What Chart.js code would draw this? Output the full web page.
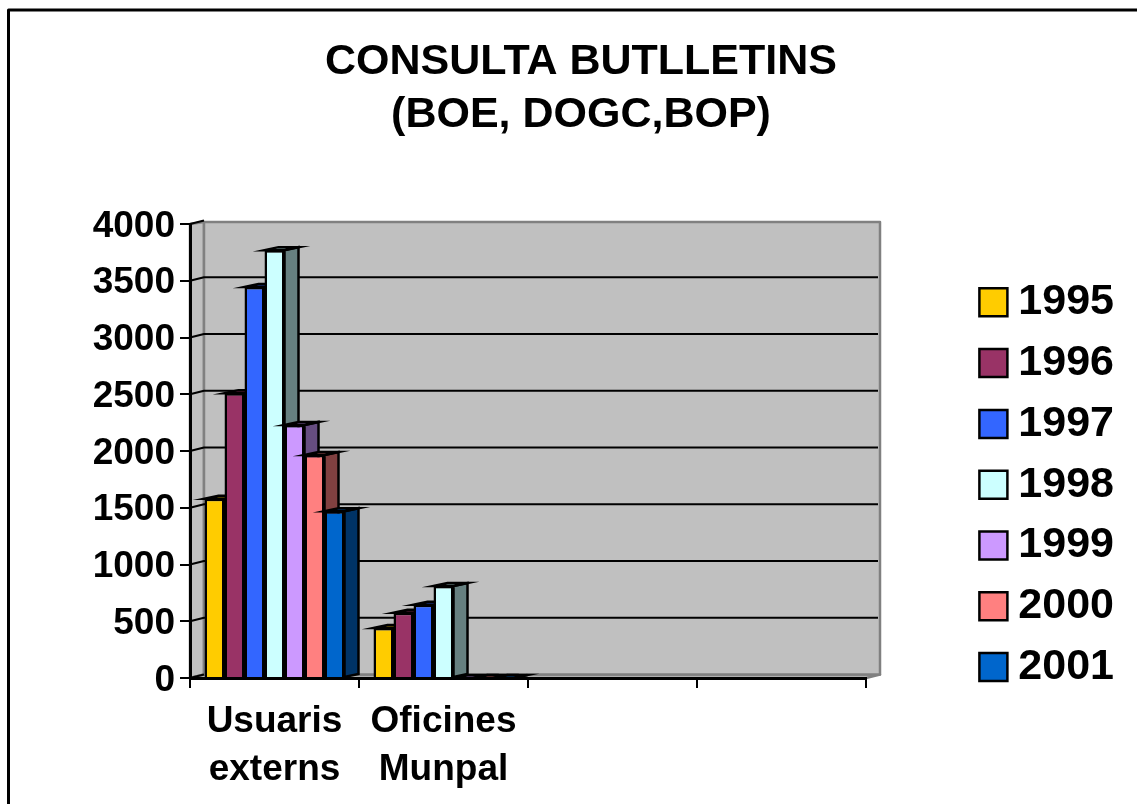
<!DOCTYPE html>
<html>
<head>
<meta charset="utf-8">
<title>Consulta butlletins</title>
<script src="https://cdn.jsdelivr.net/npm/chart.js@4"></script>
<style>
html, body { margin: 0; padding: 0; background: #fff; overflow: hidden; }
#wrap { width: 1137px; height: 804px; }
</style>
</head>
<body>
<div id="wrap"><canvas id="consultaChart" width="1137" height="804"></canvas></div>
<script>
const categories = [['Usuaris', 'externs'], ['Oficines', 'Munpal'], '', ''];
const years = ['1995', '1996', '1997', '1998', '1999', '2000', '2001'];
const colors = ['#FFCC00', '#993366', '#3366FF', '#CCFFFF', '#CC99FF', '#FF8080', '#0066CC'];
const v1995 = [1580, 440];
const v1996 = [2510, 575];
const v1997 = [3445, 645];
const v1998 = [3770, 810];
const v1999 = [2230, 0];
const v2000 = [1965, 0];
const v2001 = [1470, 0];
const seriesValues = [v1995, v1996, v1997, v1998, v1999, v2000, v2001];
const yTicks = [0, 500, 1000, 1500, 2000, 2500, 3000, 3500, 4000];

const FONT = '"Liberation Sans", Arial, sans-serif';
const DX = 14;    // profunditat 3D
const DY = -3.5;
const BAR_DY = -3;

function shade(hex, f) {
    const n = parseInt(hex.slice(1), 16);
    const r = Math.round((n >> 16 & 255) * f);
    const g = Math.round((n >> 8 & 255) * f);
    const b = Math.round((n & 255) * f);
    return `rgb(${r},${g},${b})`;
}

function poly(ctx, pts, fill, stroke, width) {
    ctx.beginPath();
    pts.forEach((p, i) => i ? ctx.lineTo(p[0], p[1]) : ctx.moveTo(p[0], p[1]));
    ctx.closePath();
    if (fill) { ctx.fillStyle = fill; ctx.fill(); }
    if (stroke) { ctx.strokeStyle = stroke; ctx.lineWidth = width; ctx.stroke(); }
}

// parets del fons, graella i marc
const wallsPlugin = {
    id: 'walls',
    beforeDraw(chart) {
        const { ctx, chartArea: a, scales: { y } } = chart;
        const wallTop = a.top + DY + 1.5;
        ctx.save();
        ctx.lineJoin = 'round';
        ctx.fillStyle = '#fff';
        ctx.fillRect(0, 0, chart.width, chart.height);
        ctx.strokeStyle = '#000';
        ctx.lineWidth = 3;
        ctx.beginPath();
        ctx.moveTo(8.5, chart.height);
        ctx.lineTo(8.5, 10);
        ctx.lineTo(chart.width, 10);
        ctx.stroke();

        const g = '#808080';
        poly(ctx, [[a.left, a.top], [a.left + DX, wallTop], [a.left + DX, a.bottom + DY], [a.left, a.bottom]], '#C0C0C0', g, 2.5);
        poly(ctx, [[a.left, a.bottom], [a.right, a.bottom], [a.right + DX, a.bottom + DY], [a.left + DX, a.bottom + DY]], '#C0C0C0', g, 2.5);
        poly(ctx, [[a.left + DX, wallTop], [a.right + DX, wallTop], [a.right + DX, a.bottom + DY], [a.left + DX, a.bottom + DY]], '#C0C0C0', g, 2.5);

        ctx.strokeStyle = '#000';
        ctx.lineWidth = 2;
        yTicks.forEach(t => {
            const py = y.getPixelForValue(t);
            ctx.beginPath();
            ctx.moveTo(a.left, py);
            ctx.lineTo(a.left + DX, py + DY);
            if (t > 0 && t < 4000) ctx.lineTo(a.right + DX - 2, py + DY);
            ctx.stroke();
        });
        ctx.restore();
    }
};

// cares laterals i superiors de cada barra, d'esquerra a dreta
const bars3dPlugin = {
    id: 'bars3d',
    beforeDatasetsDraw(chart) {
        const { ctx } = chart;
        chart.getSortedVisibleDatasetMetas().forEach(meta => {
            const color = chart.data.datasets[meta.index].backgroundColor;
            ctx.save();
            ctx.lineJoin = 'miter';
            ctx.miterLimit = 20;
            meta.data.forEach(bar => {
                const p = bar.getProps(['x', 'y', 'base', 'width'], true);
                const x0 = p.x - p.width / 2;
                const x1 = p.x + p.width / 2;
                poly(ctx, [[x1, p.y], [x1 + DX, p.y + BAR_DY], [x1 + DX, p.base + BAR_DY], [x1, p.base]], shade(color, 0.5), '#000', 2.5);
                poly(ctx, [[x0, p.y], [x0 + DX, p.y + BAR_DY], [x1 + DX, p.y + BAR_DY], [x1, p.y]], shade(color, 0.6), '#000', 2.5);
            });
            ctx.restore();
            meta.controller.draw();
        });
        return false;
    }
};

// títol i llegenda col·locats com a l'original
const placePlugin = {
    id: 'place',
    afterLayout(chart) {
        const t = chart.titleBlock;
        t.left = 25;
        t.right = 1137;
        const l = chart.legend;
        l.left = 961.6;
        l.right = 1114;
        l.top = 263;
        l.bottom = 730;
    }
};

new Chart(document.getElementById('consultaChart'), {
    type: 'bar',
    data: {
        labels: categories,
        datasets: years.map((year, i) => ({
            label: year,
            data: seriesValues[i],
            backgroundColor: colors[i],
            borderColor: '#000',
            borderWidth: 2.5,
            barPercentage: 1,
            categoryPercentage: 140 / 169
        }))
    },
    options: {
        responsive: false,
        animation: false,
        events: [],
        layout: { padding: { left: 0, right: 271, top: 0, bottom: 0 } },
        plugins: {
            tooltip: { enabled: false },
            title: {
                display: true,
                text: ['CONSULTA BUTLLETINS', '(BOE, DOGC,BOP)'],
                color: '#000',
                font: { family: FONT, size: 43, weight: 'bold', lineHeight: 1.233 },
                padding: { top: 36, bottom: 82 }
            },
            legend: {
                position: 'chartArea',
                align: 'start',
                labels: {
                    color: '#000',
                    font: { family: FONT, size: 43, weight: 'bold' },
                    boxWidth: 28,
                    boxHeight: 28,
                    padding: 17.8,
                    textAlign: 'right'
                }
            }
        },
        scales: {
            x: {
                offset: true,
                afterFit: s => { s.height = 126; },
                border: { color: '#000', width: 3 },
                grid: { drawOnChartArea: false, drawTicks: true, tickLength: 10, color: '#000', lineWidth: 2 },
                ticks: {
                    color: '#000',
                    font: { family: FONT, size: 37, weight: 'bold', lineHeight: 1.29 },
                    padding: 10,
                    maxRotation: 0,
                    autoSkip: false
                }
            },
            y: {
                min: 0,
                max: 4000,
                afterFit: s => { s.width = 190; },
                border: { color: '#000', width: 3 },
                grid: { drawOnChartArea: false, drawTicks: true, tickLength: 10, color: '#000', lineWidth: 2 },
                ticks: {
                    stepSize: 500,
                    format: { useGrouping: false },
                    labelOffset: 2.5,
                    color: '#000',
                    font: { family: FONT, size: 37, weight: 'bold' },
                    padding: 5
                }
            }
        }
    },
    plugins: [wallsPlugin, bars3dPlugin, placePlugin]
});
</script>
</body>
</html>
